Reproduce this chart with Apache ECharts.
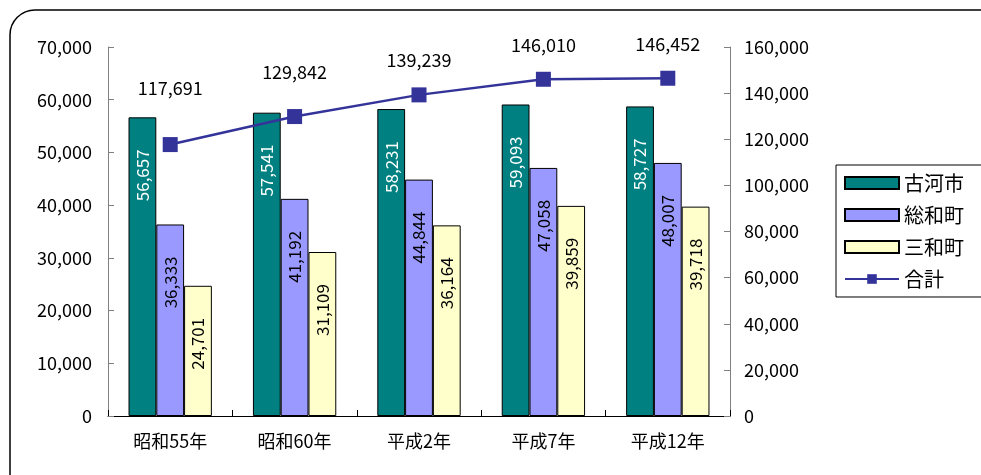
<!DOCTYPE html>
<html>
<head>
<meta charset="utf-8">
<script src="https://cdn.jsdelivr.net/npm/echarts@6/dist/echarts.min.js"></script>
<style>
  html, body { margin: 0; padding: 0; background: #fff; }
  #chart { width: 981px; height: 475px; }
</style>
</head>
<body>
<div id="chart"></div>
<script>
// 年次別人口（古河市・総和町・三和町と合計）
const categories = ['昭和55年', '昭和60年', '平成2年', '平成7年', '平成12年'];
const kogaShi = [56657, 57541, 58231, 59093, 58727];
const sowaMachi = [36333, 41192, 44844, 47058, 48007];
const sanwaMachi = [24701, 31109, 36164, 39859, 39718];
const goukei = [117691, 129842, 139239, 146010, 146452];

// distance of each total label above its marker
const totalLabelLift = [40, 28, 18, 18, 18];

const FONT = '"Noto Sans CJK JP", "Noto Sans", sans-serif';
const fmt = v => Number(v).toLocaleString('en-US');

const chart = echarts.init(document.getElementById('chart'));

function barSeries(name, values, color, textColor) {
  return {
    name: name,
    type: 'bar',
    yAxisIndex: 0,
    data: values,
    barGap: '0%',
    barCategoryGap: '33%',
    itemStyle: { color: color, borderColor: '#000', borderWidth: 1 },
    label: {
      show: true,
      position: 'insideTop',
      distance: 32,
      rotate: 90,
      align: 'right',
      verticalAlign: 'middle',
      color: textColor,
      fontFamily: FONT,
      fontSize: 17,
      formatter: p => fmt(p.value)
    }
  };
}

chart.setOption({
  backgroundColor: '#fff',
  animation: false,
  graphic: [{
    type: 'rect',
    z: -10,
    silent: true,
    shape: { x: 10, y: 10, width: 1000, height: 500, r: 25 },
    style: { fill: 'none', stroke: '#000', lineWidth: 1.5 }
  }],
  grid: { left: 108, right: 251, top: 47, bottom: 59, containLabel: false },
  legend: {
    left: 836,
    top: 165,
    orient: 'vertical',
    itemWidth: 54,
    itemHeight: 12,
    itemGap: 12,
    padding: [8, 40, 8, 8],
    borderColor: '#000',
    borderWidth: 1,
    textStyle: { fontFamily: FONT, fontSize: 20, color: '#000' },
    data: [
      { name: '古河市', icon: 'rect' },
      { name: '総和町', icon: 'rect' },
      { name: '三和町', icon: 'rect' },
      { name: '合計' }
    ]
  },
  xAxis: {
    type: 'category',
    data: categories,
    axisLine: { lineStyle: { color: '#000', width: 1 } },
    axisTick: { show: true, inside: true, length: 6, lineStyle: { color: '#000' } },
    axisLabel: { fontFamily: FONT, fontSize: 18, color: '#000', margin: 16 }
  },
  yAxis: [{
    type: 'value',
    min: 0,
    max: 70000,
    interval: 10000,
    position: 'left',
    axisLine: { show: true, lineStyle: { color: '#808080' } },
    axisTick: { show: true, inside: true, length: 6, lineStyle: { color: '#808080' } },
    splitLine: { show: false },
    axisLabel: { fontFamily: FONT, fontSize: 18, color: '#000', margin: 16, formatter: fmt }
  }, {
    type: 'value',
    min: 0,
    max: 160000,
    interval: 20000,
    position: 'right',
    axisLine: { show: true, lineStyle: { color: '#808080' } },
    axisTick: { show: true, inside: true, length: 6, lineStyle: { color: '#808080' } },
    splitLine: { show: false },
    axisLabel: { fontFamily: FONT, fontSize: 18, color: '#000', margin: 14, formatter: fmt }
  }],
  series: [
    barSeries('古河市', kogaShi, '#008080', '#fff'),
    barSeries('総和町', sowaMachi, '#9999FF', '#000'),
    barSeries('三和町', sanwaMachi, '#FFFFCC', '#000'),
    {
      name: '合計',
      type: 'line',
      yAxisIndex: 1,
      data: goukei.map((v, i) => ({
        value: v,
        label: { distance: totalLabelLift[i] }
      })),
      symbol: 'rect',
      symbolSize: 15,
      lineStyle: { color: '#333399', width: 2.5 },
      itemStyle: { color: '#333399' },
      label: {
        show: true,
        position: 'top',
        color: '#000',
        fontFamily: FONT,
        fontSize: 18,
        formatter: p => fmt(p.value)
      },
      z: 5
    }
  ]
});
</script>
</body>
</html>
